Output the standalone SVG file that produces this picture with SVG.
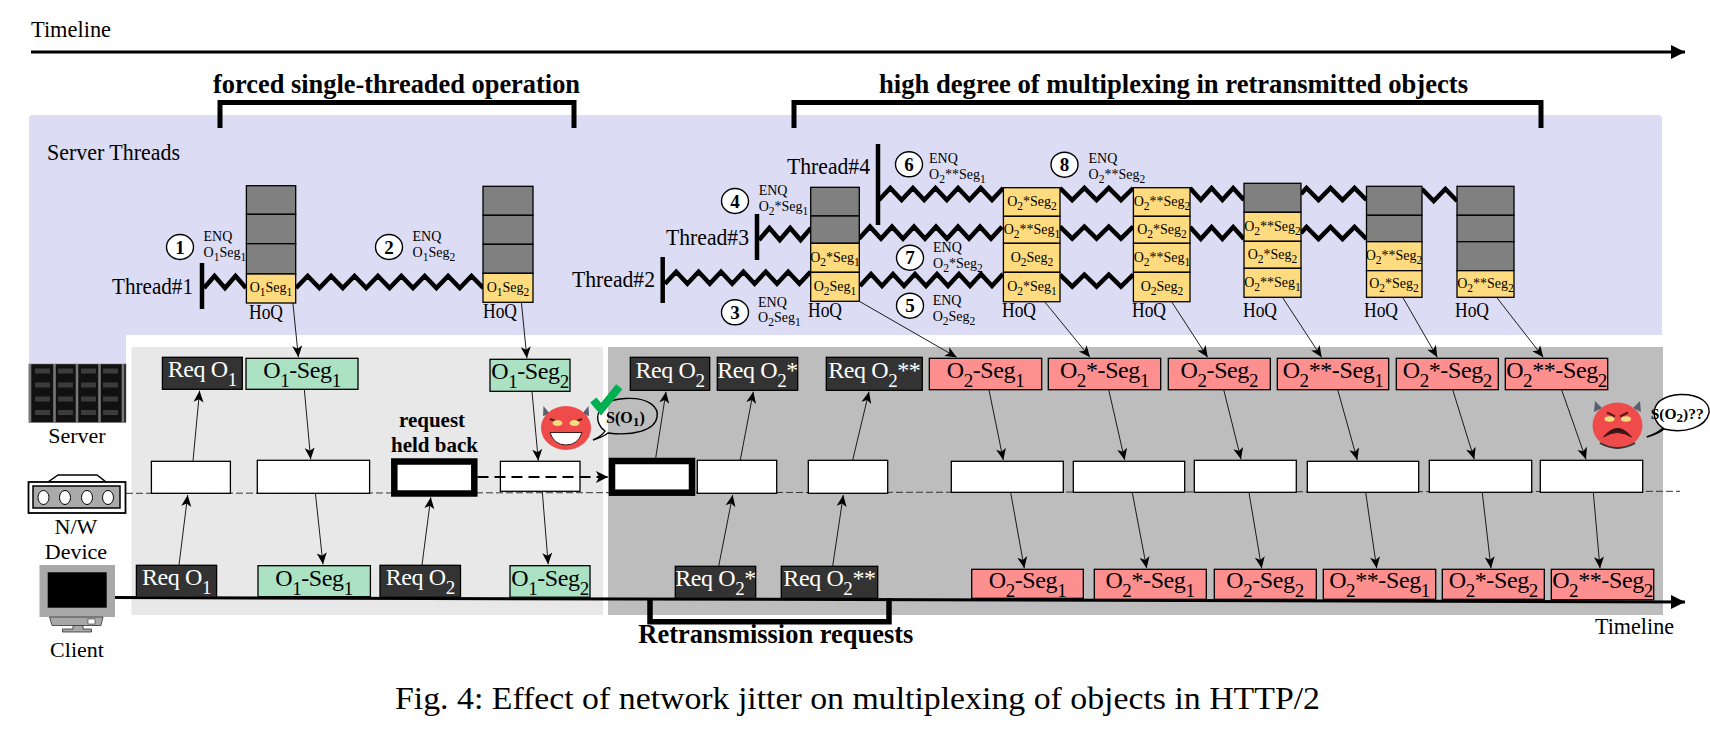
<svg xmlns="http://www.w3.org/2000/svg" width="1710" height="730" viewBox="0 0 1710 730">
<style>
text{font-family:"Liberation Serif","Times New Roman",serif;fill:#000}
.lbl{font-size:22px}
.hoq{font-size:20px}
.big{font-size:23px}
.title{font-size:27px;font-weight:bold}
.b{font-size:24px;letter-spacing:-.4px;text-anchor:middle}
.w,.w tspan{fill:#fff}
.s{font-size:19px}
.y{font-size:14px;text-anchor:middle}
.y .s{font-size:11.5px}
.e{font-size:14px}
.e .s{font-size:11.5px}
.n{font-size:19px;font-weight:bold;text-anchor:middle}
.m{text-anchor:middle}
.c{fill:#fff;stroke:#000;stroke-width:1.4}
.g{fill:#808080;stroke:#000;stroke-width:1.3}
.yl{fill:#fedb7e;stroke:#000;stroke-width:1.3}
.d{fill:#333;stroke:#000;stroke-width:1.3}
.gr{fill:#abe2c4;stroke:#000;stroke-width:1.3}
.r{fill:#fe8f8f;stroke:#000;stroke-width:1.3}
.wb{fill:#fff;stroke:#000;stroke-width:1.3}
.hb{fill:#fff;stroke:#000;stroke-width:6.5}
.z{fill:none;stroke:#000;stroke-width:4.5;stroke-linejoin:miter}
.bar{fill:none;stroke:#000;stroke-width:5}
.a line{stroke:#111;stroke-width:.95;marker-end:url(#ah)}
</style>
<defs>
<marker id="ah" markerUnits="userSpaceOnUse" markerWidth="16" markerHeight="14" refX="14" refY="7" orient="auto"><path d="M14,7 L2.5,2 L5.5,7 L2.5,12 Z" fill="#000"/></marker>
<marker id="bh" markerUnits="userSpaceOnUse" markerWidth="16" markerHeight="18" refX="15" refY="9" orient="auto"><path d="M15,9 L1,2 L1,16 Z" fill="#000"/></marker>
<marker id="dh" markerUnits="userSpaceOnUse" markerWidth="16" markerHeight="14" refX="14" refY="7" orient="auto"><path d="M14,7 L2,1 L5,7 L2,13 Z" fill="#000"/></marker>
</defs>

<rect width="1710" height="730" fill="#fff"/>
<g id="panels">
<path d="M32,115 H1658 Q1662,115 1662,119 V335 H126 V364 H29 V119 Q29,115 32,115 Z" fill="#dcdcf4"/>
<rect x="131.5" y="347" width="471.5" height="268" fill="#e8e8e8"/>
<rect x="608" y="347" width="1055" height="268" fill="#bdbdbd"/>
</g>

<g id="timeline-top">
<text x="31" y="37" class="big" textLength="80" lengthAdjust="spacingAndGlyphs">Timeline</text>
<line x1="31" y1="52" x2="1685" y2="52" stroke="#000" stroke-width="3" marker-end="url(#bh)"/>
</g>
<g id="phase-labels">
<text x="213" y="93" class="title" textLength="367" lengthAdjust="spacingAndGlyphs">forced single-threaded operation</text>
<path d="M220,128 V102.5 H574 V128" class="bar"/>
<text x="879" y="93" class="title" textLength="589" lengthAdjust="spacingAndGlyphs">high degree of multiplexing in retransmitted objects</text>
<path d="M794,128 V102.5 H1541 V128" class="bar"/>
</g>
<text x="47" y="160" class="big" textLength="133" lengthAdjust="spacingAndGlyphs">Server Threads</text>

<line x1="126" y1="493.3" x2="1680" y2="491.3" stroke="#333" stroke-width="1" stroke-dasharray="7 3" id="nw-line"/>

<g id="threads">
<text x="112" y="294" class="big" textLength="81" lengthAdjust="spacingAndGlyphs">Thread#1</text>
<line x1="202" y1="263" x2="202" y2="309" stroke="#000" stroke-width="4.5"/>
<path class="z" d="M204,288 l10.5,-12 l10.5,12 l10.5,-12 l10.5,12"/>
<path class="z" d="M296,288 l11.7,-12 l11.7,12 l11.7,-12 l11.7,12 l11.7,-12 l11.7,12 l11.7,-12 l11.7,12 l11.7,-12 l11.7,12 l11.7,-12 l11.7,12 l11.7,-12 l11.7,12 l11.7,-12 l11.7,12"/>
<text x="572" y="287" class="big" textLength="83" lengthAdjust="spacingAndGlyphs">Thread#2</text>
<line x1="662.7" y1="257" x2="662.7" y2="303" stroke="#000" stroke-width="4.5"/>
<path class="z" d="M665,283.7 l11.2,-12 l11.2,12 l11.2,-12 l11.2,12 l11.2,-12 l11.2,12 l11.2,-12 l11.2,12 l11.2,-12 l11.2,12 l11.2,-12 l11.2,12 l11.2,-12"/>
<path class="z" d="M860,286 l11,-12 l11,12 l11,-12 l11,12 l11,-12 l11,12 l11,-12 l11,12 l11,-12 l11,12 l11,-12 l11,12 l11,-12"/>
<text x="666" y="245" class="big" textLength="83" lengthAdjust="spacingAndGlyphs">Thread#3</text>
<line x1="757" y1="214" x2="757" y2="260" stroke="#000" stroke-width="4.5"/>
<path class="z" d="M759,240 l10.4,-12 l10.4,12 l10.4,-12 l10.4,12 l10.4,-12"/>
<path class="z" d="M859,238.7 l11,-12 l11,12 l11,-12 l11,12 l11,-12 l11,12 l11,-12 l11,12 l11,-12 l11,12 l11,-12 l11,12 l11,-12"/>
<text x="787" y="174" class="big" textLength="83" lengthAdjust="spacingAndGlyphs">Thread#4</text>
<line x1="878" y1="144" x2="878" y2="225" stroke="#000" stroke-width="4.5"/>
<path class="z" d="M879,200 l11.3,-12 l11.3,12 l11.3,-12 l11.3,12 l11.3,-12 l11.3,12 l11.3,-12 l11.3,12 l11.3,-12 l11.3,12 l11.3,-12"/>
<path class="z" d="M1060,188 l12.2,12 l12.2,-12 l12.2,12 l12.2,-12 l12.2,12 l12.2,-12"/>
<path class="z" d="M1060,226.7 l12.2,12 l12.2,-12 l12.2,12 l12.2,-12 l12.2,12 l12.2,-12"/>
<path class="z" d="M1060,274.7 l12.2,12 l12.2,-12 l12.2,12 l12.2,-12 l12.2,12 l12.2,-12"/>
<path class="z" d="M1190,188 l10.8,12 l10.8,-12 l10.8,12 l10.8,-12 l10.8,12"/>
<path class="z" d="M1190,227 l10.8,12 l10.8,-12 l10.8,12 l10.8,-12 l10.8,12"/>
<path class="z" d="M1301,194 l5.5,-6 l12,12 l12,-12 l12,12 l12,-12 l12,12"/>
<path class="z" d="M1301,233 l5.5,-6 l12,12 l12,-12 l12,12 l12,-12 l12,12"/>
<path class="z" d="M1422,189 l11.7,12 l11.7,-12 l11.7,12"/>
</g>

<g id="enq-labels">
<ellipse class="c" cx="180" cy="247" rx="13.5" ry="12.5"/><text x="180" y="253.5" class="n">1</text>
<text x="203.5" y="241" class="e">ENQ</text><text x="203.5" y="256.7" class="e">O<tspan class="s" dy="4">1</tspan><tspan dy="-4">Seg</tspan><tspan class="s" dy="4">1</tspan></text>
<ellipse class="c" cx="389" cy="247" rx="13.5" ry="12.5"/><text x="389" y="253.5" class="n">2</text>
<text x="412.5" y="241" class="e">ENQ</text><text x="412.5" y="256.7" class="e">O<tspan class="s" dy="4">1</tspan><tspan dy="-4">Seg</tspan><tspan class="s" dy="4">2</tspan></text>
<ellipse class="c" cx="735" cy="312.3" rx="13.5" ry="12.5"/><text x="735" y="318.8" class="n">3</text>
<text x="758" y="306.7" class="e">ENQ</text><text x="758" y="322" class="e">O<tspan class="s" dy="4">2</tspan><tspan dy="-4">Seg</tspan><tspan class="s" dy="4">1</tspan></text>
<ellipse class="c" cx="735" cy="201" rx="13.5" ry="12.5"/><text x="735" y="207.5" class="n">4</text>
<text x="758.7" y="195" class="e">ENQ</text><text x="758.7" y="210.7" class="e">O<tspan class="s" dy="4">2</tspan><tspan dy="-4">*Seg</tspan><tspan class="s" dy="4">1</tspan></text>
<ellipse class="c" cx="910" cy="305.7" rx="13.5" ry="12.5"/><text x="910" y="312.2" class="n">5</text>
<text x="932.7" y="304.7" class="e">ENQ</text><text x="932.7" y="320.7" class="e">O<tspan class="s" dy="4">2</tspan><tspan dy="-4">Seg</tspan><tspan class="s" dy="4">2</tspan></text>
<ellipse class="c" cx="909" cy="164.3" rx="13.5" ry="12.5"/><text x="909" y="170.8" class="n">6</text>
<text x="929" y="163" class="e">ENQ</text><text x="929" y="179" class="e">O<tspan class="s" dy="4">2</tspan><tspan dy="-4">**Seg</tspan><tspan class="s" dy="4">1</tspan></text>
<ellipse class="c" cx="910" cy="257.7" rx="13.5" ry="12.5"/><text x="910" y="264.2" class="n">7</text>
<text x="933" y="252" class="e">ENQ</text><text x="933" y="268" class="e">O<tspan class="s" dy="4">2</tspan><tspan dy="-4">*Seg</tspan><tspan class="s" dy="4">2</tspan></text>
<ellipse class="c" cx="1064.5" cy="164.7" rx="13.5" ry="12.5"/><text x="1064.5" y="171.2" class="n">8</text>
<text x="1088.5" y="162.7" class="e">ENQ</text><text x="1088.5" y="179" class="e">O<tspan class="s" dy="4">2</tspan><tspan dy="-4">**Seg</tspan><tspan class="s" dy="4">2</tspan></text>
</g>

<g id="stack-a">
<rect class="g" x="246.4" y="185.7" width="49.3" height="28.6"/><rect class="g" x="246.4" y="214.3" width="49.3" height="29.4"/><rect class="g" x="246.4" y="243.7" width="49.3" height="30.3"/>
<rect class="yl" x="246.4" y="274" width="49.3" height="29"/>
<text x="271" y="292" class="y">O<tspan class="s" dy="4">1</tspan><tspan dy="-4">Seg</tspan><tspan class="s" dy="4">1</tspan></text>
<text x="249" y="319" class="hoq" textLength="34" lengthAdjust="spacingAndGlyphs">HoQ</text>
</g>
<g id="stack-b">
<rect class="g" x="483" y="186.3" width="50" height="29"/><rect class="g" x="483" y="215.3" width="50" height="29"/><rect class="g" x="483" y="244.3" width="50" height="29"/>
<rect class="yl" x="483" y="273.3" width="50" height="29"/>
<text x="508" y="291.5" class="y">O<tspan class="s" dy="4">1</tspan><tspan dy="-4">Seg</tspan><tspan class="s" dy="4">2</tspan></text>
<text x="483" y="318" class="hoq" textLength="34" lengthAdjust="spacingAndGlyphs">HoQ</text>
</g>
<g id="stack-c">
<rect class="g" x="810.7" y="187.3" width="48.6" height="28.7"/><rect class="g" x="810.7" y="216" width="48.6" height="27.3"/>
<rect class="yl" x="810.7" y="243.3" width="48.6" height="29"/><rect class="yl" x="810.7" y="272.3" width="48.6" height="29"/>
<text x="835" y="261.5" class="y">O<tspan class="s" dy="4">2</tspan><tspan dy="-4">*Seg</tspan><tspan class="s" dy="4">1</tspan></text>
<text x="835" y="290.5" class="y">O<tspan class="s" dy="4">2</tspan><tspan dy="-4">Seg</tspan><tspan class="s" dy="4">1</tspan></text>
<text x="808" y="317" class="hoq" textLength="34" lengthAdjust="spacingAndGlyphs">HoQ</text>
</g>
<g id="stack-d">
<rect class="yl" x="1003.4" y="187.7" width="56.6" height="28.6"/><rect class="yl" x="1003.4" y="216.3" width="56.6" height="27"/><rect class="yl" x="1003.4" y="243.3" width="56.6" height="29"/><rect class="yl" x="1003.4" y="272.3" width="56.6" height="29.4"/>
<text x="1032" y="205.5" class="y">O<tspan class="s" dy="4">2</tspan><tspan dy="-4">*Seg</tspan><tspan class="s" dy="4">2</tspan></text>
<text x="1032" y="233.5" class="y">O<tspan class="s" dy="4">2</tspan><tspan dy="-4">**Seg</tspan><tspan class="s" dy="4">1</tspan></text>
<text x="1032" y="261.5" class="y">O<tspan class="s" dy="4">2</tspan><tspan dy="-4">Seg</tspan><tspan class="s" dy="4">2</tspan></text>
<text x="1032" y="290.5" class="y">O<tspan class="s" dy="4">2</tspan><tspan dy="-4">*Seg</tspan><tspan class="s" dy="4">1</tspan></text>
<text x="1002" y="317" class="hoq" textLength="34" lengthAdjust="spacingAndGlyphs">HoQ</text>
</g>
<g id="stack-e">
<rect class="yl" x="1133.4" y="187.7" width="56.6" height="28.6"/><rect class="yl" x="1133.4" y="216.3" width="56.6" height="27"/><rect class="yl" x="1133.4" y="243.3" width="56.6" height="29"/><rect class="yl" x="1133.4" y="272.3" width="56.6" height="29.4"/>
<text x="1162" y="205.5" class="y">O<tspan class="s" dy="4">2</tspan><tspan dy="-4">**Seg</tspan><tspan class="s" dy="4">2</tspan></text>
<text x="1162" y="233.5" class="y">O<tspan class="s" dy="4">2</tspan><tspan dy="-4">*Seg</tspan><tspan class="s" dy="4">2</tspan></text>
<text x="1162" y="261.5" class="y">O<tspan class="s" dy="4">2</tspan><tspan dy="-4">**Seg</tspan><tspan class="s" dy="4">1</tspan></text>
<text x="1162" y="290.5" class="y">O<tspan class="s" dy="4">2</tspan><tspan dy="-4">Seg</tspan><tspan class="s" dy="4">2</tspan></text>
<text x="1132" y="317" class="hoq" textLength="34" lengthAdjust="spacingAndGlyphs">HoQ</text>
</g>
<g id="stack-f">
<rect class="g" x="1244" y="183.3" width="57" height="29"/>
<rect class="yl" x="1244" y="212.3" width="57" height="29"/><rect class="yl" x="1244" y="241.3" width="57" height="27"/><rect class="yl" x="1244" y="268.3" width="57" height="29"/>
<text x="1272.5" y="231" class="y">O<tspan class="s" dy="4">2</tspan><tspan dy="-4">**Seg</tspan><tspan class="s" dy="4">2</tspan></text>
<text x="1272.5" y="259" class="y">O<tspan class="s" dy="4">2</tspan><tspan dy="-4">*Seg</tspan><tspan class="s" dy="4">2</tspan></text>
<text x="1272.5" y="287" class="y">O<tspan class="s" dy="4">2</tspan><tspan dy="-4">**Seg</tspan><tspan class="s" dy="4">1</tspan></text>
<text x="1243" y="317" class="hoq" textLength="34" lengthAdjust="spacingAndGlyphs">HoQ</text>
</g>
<g id="stack-g">
<rect class="g" x="1366.5" y="186.3" width="55.5" height="29"/><rect class="g" x="1366.5" y="215.3" width="55.5" height="26.4"/>
<rect class="yl" x="1366.5" y="241.7" width="55.5" height="29"/><rect class="yl" x="1366.5" y="270.7" width="55.5" height="26.6"/>
<text x="1394" y="260" class="y">O<tspan class="s" dy="4">2</tspan><tspan dy="-4">**Seg</tspan><tspan class="s" dy="4">2</tspan></text>
<text x="1394" y="288" class="y">O<tspan class="s" dy="4">2</tspan><tspan dy="-4">*Seg</tspan><tspan class="s" dy="4">2</tspan></text>
<text x="1364" y="317" class="hoq" textLength="34" lengthAdjust="spacingAndGlyphs">HoQ</text>
</g>
<g id="stack-h">
<rect class="g" x="1457" y="186.3" width="57" height="29"/><rect class="g" x="1457" y="215.3" width="57" height="26.4"/><rect class="g" x="1457" y="241.7" width="57" height="29"/>
<rect class="yl" x="1457" y="270.7" width="57" height="26.6"/>
<text x="1485.5" y="288" class="y">O<tspan class="s" dy="4">2</tspan><tspan dy="-4">**Seg</tspan><tspan class="s" dy="4">2</tspan></text>
<text x="1455" y="317" class="hoq" textLength="34" lengthAdjust="spacingAndGlyphs">HoQ</text>
</g>

<g id="server">
<rect x="29" y="364" width="97" height="58.5" fill="#111" stroke="#777" stroke-width=".6"/>
<path d="M30,364 V422 M54.5,364 V422 M77,364 V422 M99.5,364 V422 M123,364 V422" stroke="#777" stroke-width="2.6"/>
<g fill="#3c3c3c">
<rect x="35" y="368.5" width="15" height="5"/><rect x="58" y="368.5" width="15" height="5"/><rect x="81" y="368.5" width="15" height="5"/><rect x="103" y="368.5" width="15" height="5"/>
<rect x="35" y="382.5" width="15" height="5"/><rect x="58" y="382.5" width="15" height="5"/><rect x="81" y="382.5" width="15" height="5"/><rect x="103" y="382.5" width="15" height="5"/>
<rect x="35" y="396.5" width="15" height="5"/><rect x="58" y="396.5" width="15" height="5"/><rect x="81" y="396.5" width="15" height="5"/><rect x="103" y="396.5" width="15" height="5"/>
<rect x="35" y="410" width="15" height="5"/><rect x="58" y="410" width="15" height="5"/><rect x="81" y="410" width="15" height="5"/><rect x="103" y="410" width="15" height="5"/>
</g>
<text x="77" y="442.5" class="lbl m">Server</text>
</g>
<g id="nw-device">
<path d="M48,482 L58,475 H97 L106,482 Z" fill="#fff" stroke="#000" stroke-width="1.5"/>
<rect x="28.5" y="482" width="97" height="31" fill="#fff" stroke="#000" stroke-width="1.8"/>
<rect x="33" y="486" width="87" height="22" fill="#aaa" stroke="#000" stroke-width="1.5"/>
<g fill="#fff" stroke="#000"><ellipse cx="43.5" cy="497.5" rx="5.5" ry="7"/><ellipse cx="65" cy="497.5" rx="5.5" ry="7"/><ellipse cx="87" cy="497.5" rx="5.5" ry="7"/><ellipse cx="108" cy="497.5" rx="5.5" ry="7"/></g>
<text x="76" y="534" class="lbl m">N/W</text>
<text x="76" y="558.7" class="lbl m">Device</text>
</g>
<g id="client">
<rect x="39.5" y="565" width="75.5" height="52" fill="#a8a8a8"/>
<rect x="47.7" y="572.3" width="59" height="35.4" fill="#000"/>
<path d="M49.5,617 H103 L101,625.5 H52 Z" fill="#a8a8a8" stroke="#333" stroke-width=".8"/>
<rect x="88" y="619" width="7" height="5" fill="#fff" stroke="#333" stroke-width=".6"/>
<path d="M73,625.5 H83 V629 H91.5 V632 H62.5 V629 H73 Z" fill="#a8a8a8" stroke="#333" stroke-width=".8"/>
<text x="77" y="657" class="lbl m">Client</text>
</g>

<g id="net-boxes">
<rect class="wb" x="151.4" y="461.3" width="79" height="32"/>
<rect class="wb" x="257.3" y="460.3" width="112.3" height="33"/>
<rect class="hb" x="394.3" y="461.5" width="80" height="32"/>
<rect class="wb" x="500.4" y="461.3" width="79.6" height="30"/>
<rect class="hb" x="612" y="461" width="80" height="31.7"/>
<rect class="wb" x="697.3" y="460.3" width="79.4" height="33"/>
<rect class="wb" x="808.3" y="460.3" width="79.4" height="33"/>
<rect class="wb" x="951.3" y="461.3" width="112" height="31"/>
<rect class="wb" x="1073.3" y="461.3" width="111.4" height="31"/>
<rect class="wb" x="1194.3" y="460.3" width="102" height="32"/>
<rect class="wb" x="1307.3" y="461.3" width="111.4" height="31"/>
<rect class="wb" x="1429.3" y="460.3" width="102.4" height="32"/>
<rect class="wb" x="1540.3" y="460.3" width="102.4" height="32"/>
</g>
<text x="432" y="427" class="m" font-weight="bold" font-size="21">request</text>
<text x="434.5" y="451.7" class="m" font-weight="bold" font-size="21">held back</text>

<line x1="115" y1="597.5" x2="1685" y2="602" stroke="#000" stroke-width="3" marker-end="url(#bh)" id="timeline-bottom"/>
<path d="M650,598 V621.8 H889 V598" class="bar" style="stroke-width:5.5"/>
<text x="638.3" y="642.7" class="title" textLength="275" lengthAdjust="spacingAndGlyphs">Retransmission requests</text>
<text x="1595" y="634.3" class="big" textLength="79" lengthAdjust="spacingAndGlyphs">Timeline</text>

<g id="server-row">
<g id="req-o1-s"><rect class="d" x="162.4" y="357.3" width="79.9" height="32"/><text x="202.3" y="377" class="b w">Req O<tspan class="s" dy="9">1</tspan></text></g>
<g id="o1s1-s"><rect class="gr" x="246" y="358.3" width="112" height="31"/><text x="302" y="378" class="b">O<tspan class="s" dy="9">1</tspan><tspan dy="-9">-Seg</tspan><tspan class="s" dy="9">1</tspan></text></g>
<g id="o1s2-s"><rect class="gr" x="490" y="359.3" width="80" height="32"/><text x="530" y="379" class="b">O<tspan class="s" dy="9">1</tspan><tspan dy="-9">-Seg</tspan><tspan class="s" dy="9">2</tspan></text></g>
<g id="req-o2-s"><rect class="d" x="630.3" y="357.3" width="79.4" height="33"/><text x="670" y="377.5" class="b w">Req O<tspan class="s" dy="9">2</tspan></text></g>
<g id="req-o2a-s"><rect class="d" x="717.3" y="357.3" width="80.4" height="33"/><text x="757.5" y="377.5" class="b w">Req O<tspan class="s" dy="9">2</tspan><tspan dy="-9">*</tspan></text></g>
<g id="req-o2b-s"><rect class="d" x="826.3" y="357.3" width="96" height="33"/><text x="874.3" y="377.5" class="b w">Req O<tspan class="s" dy="9">2</tspan><tspan dy="-9">**</tspan></text></g>
<g id="s1"><rect class="r" x="929.3" y="358.3" width="112.4" height="31.4"/><text x="985.5" y="378" class="b">O<tspan class="s" dy="9">2</tspan><tspan dy="-9">-Seg</tspan><tspan class="s" dy="9">1</tspan></text></g>
<g id="s2"><rect class="r" x="1048.3" y="358.3" width="112.4" height="31.4"/><text x="1104.5" y="378" class="b">O<tspan class="s" dy="9">2</tspan><tspan dy="-9">*-Seg</tspan><tspan class="s" dy="9">1</tspan></text></g>
<g id="s3"><rect class="r" x="1168.3" y="358.3" width="102" height="31.4"/><text x="1219.3" y="378" class="b">O<tspan class="s" dy="9">2</tspan><tspan dy="-9">-Seg</tspan><tspan class="s" dy="9">2</tspan></text></g>
<g id="s4"><rect class="r" x="1277.3" y="358.3" width="111.4" height="31.4"/><text x="1333" y="378" class="b">O<tspan class="s" dy="9">2</tspan><tspan dy="-9">**-Seg</tspan><tspan class="s" dy="9">1</tspan></text></g>
<g id="s5"><rect class="r" x="1396.3" y="358.3" width="102" height="31.4"/><text x="1447.3" y="378" class="b">O<tspan class="s" dy="9">2</tspan><tspan dy="-9">*-Seg</tspan><tspan class="s" dy="9">2</tspan></text></g>
<g id="s6"><rect class="r" x="1505.3" y="358.3" width="102.4" height="31.4"/><text x="1556.5" y="378" class="b">O<tspan class="s" dy="9">2</tspan><tspan dy="-9">**-Seg</tspan><tspan class="s" dy="9">2</tspan></text></g>
</g>

<g id="client-row">
<g id="req-o1-c"><rect class="d" x="136.4" y="565.3" width="80.2" height="32"/><text x="176.5" y="585" class="b w">Req O<tspan class="s" dy="9">1</tspan></text></g>
<g id="o1s1-c"><rect class="gr" x="258" y="565.7" width="112.4" height="31"/><text x="314" y="585.5" class="b">O<tspan class="s" dy="9">1</tspan><tspan dy="-9">-Seg</tspan><tspan class="s" dy="9">1</tspan></text></g>
<g id="req-o2-c"><rect class="d" x="380" y="565.3" width="80.5" height="32"/><text x="420.2" y="585" class="b w">Req O<tspan class="s" dy="9">2</tspan></text></g>
<g id="o1s2-c"><rect class="gr" x="510" y="565.7" width="80" height="31.5"/><text x="550" y="585.5" class="b">O<tspan class="s" dy="9">1</tspan><tspan dy="-9">-Seg</tspan><tspan class="s" dy="9">2</tspan></text></g>
<g id="req-o2a-c"><rect class="d" x="675.3" y="566.3" width="80.4" height="32"/><text x="715.5" y="586" class="b w">Req O<tspan class="s" dy="9">2</tspan><tspan dy="-9">*</tspan></text></g>
<g id="req-o2b-c"><rect class="d" x="781.3" y="566.3" width="96.4" height="32"/><text x="829.5" y="586" class="b w">Req O<tspan class="s" dy="9">2</tspan><tspan dy="-9">**</tspan></text></g>
<g id="c1"><rect class="r" x="971.7" y="569.3" width="111.6" height="29"/><text x="1027.5" y="588" class="b">O<tspan class="s" dy="9">2</tspan><tspan dy="-9">-Seg</tspan><tspan class="s" dy="9">1</tspan></text></g>
<g id="c2"><rect class="r" x="1094.3" y="569.3" width="112" height="30"/><text x="1150" y="588" class="b">O<tspan class="s" dy="9">2</tspan><tspan dy="-9">*-Seg</tspan><tspan class="s" dy="9">1</tspan></text></g>
<g id="c3"><rect class="r" x="1214.3" y="569.3" width="102" height="30"/><text x="1265" y="588" class="b">O<tspan class="s" dy="9">2</tspan><tspan dy="-9">-Seg</tspan><tspan class="s" dy="9">2</tspan></text></g>
<g id="c4"><rect class="r" x="1323.3" y="569.3" width="112.4" height="30"/><text x="1379.5" y="588" class="b">O<tspan class="s" dy="9">2</tspan><tspan dy="-9">**-Seg</tspan><tspan class="s" dy="9">1</tspan></text></g>
<g id="c5"><rect class="r" x="1442.3" y="569.3" width="102" height="30"/><text x="1493.3" y="588" class="b">O<tspan class="s" dy="9">2</tspan><tspan dy="-9">*-Seg</tspan><tspan class="s" dy="9">2</tspan></text></g>
<g id="c6"><rect class="r" x="1551.3" y="569.3" width="102.4" height="30.5"/><text x="1602.5" y="588" class="b">O<tspan class="s" dy="9">2</tspan><tspan dy="-9">**-Seg</tspan><tspan class="s" dy="9">2</tspan></text></g>
</g>

<g id="connectors" class="a">
<line x1="179" y1="565" x2="187.7" y2="495"/><line x1="193" y1="460.7" x2="199.6" y2="390.7"/>
<line x1="292.9" y1="303" x2="298.4" y2="357.3"/><line x1="304.3" y1="389.3" x2="310.7" y2="459.3"/><line x1="315.4" y1="493.3" x2="323" y2="564.3"/>
<line x1="422" y1="565" x2="430.8" y2="497.3"/>
<line x1="521.4" y1="302.3" x2="526.9" y2="358.3"/><line x1="532" y1="391.7" x2="538.3" y2="460.7"/><line x1="542.3" y1="491.7" x2="548.2" y2="564.3"/>
<line x1="655.7" y1="458" x2="666" y2="391.7"/><line x1="740.3" y1="460" x2="753.3" y2="391.7"/><line x1="852.7" y1="460" x2="869" y2="391.7"/>
<line x1="718.7" y1="566" x2="732.7" y2="495"/><line x1="832.7" y1="566" x2="843.3" y2="495"/>
<line x1="859.3" y1="301.3" x2="956.7" y2="357.3"/><line x1="989" y1="390" x2="1003.3" y2="460"/><line x1="1010.7" y1="492.7" x2="1024.3" y2="568.3"/>
<line x1="1044.6" y1="301.7" x2="1090" y2="357.3"/><line x1="1108.7" y1="389.7" x2="1124.7" y2="460"/><line x1="1132.3" y1="492.7" x2="1146.7" y2="568.3"/>
<line x1="1171.6" y1="301.7" x2="1207.7" y2="357.3"/><line x1="1223.7" y1="389.7" x2="1241" y2="459.3"/><line x1="1249" y1="492.7" x2="1261.7" y2="568.3"/>
<line x1="1282.4" y1="297.3" x2="1321.7" y2="357.3"/><line x1="1337.7" y1="389.7" x2="1357.3" y2="460"/><line x1="1365.7" y1="492.7" x2="1376.7" y2="568.3"/>
<line x1="1402.7" y1="297.3" x2="1437.3" y2="357.3"/><line x1="1452.7" y1="389.7" x2="1474.3" y2="459.3"/><line x1="1482.3" y1="492.7" x2="1491" y2="568.3"/>
<line x1="1496.6" y1="297.3" x2="1543.3" y2="357.3"/><line x1="1561.7" y1="390" x2="1586" y2="459.3"/><line x1="1593.3" y1="492.3" x2="1600" y2="568.3"/>
<path d="M477.5,477 H608" fill="none" stroke="#000" stroke-width="2" stroke-dasharray="11 6" marker-end="url(#dh)"/>
</g>

<g id="attacker-happy">
<path d="M543,416 L543.5,406 L550,414 Z M589,416 L588.5,406 L582,414 Z" fill="#5a6070"/>
<ellipse cx="566" cy="428" rx="25" ry="22" fill="#ef4b4b"/>
<path d="M550,419 L561,423 M582,419 L571,423" stroke="#5a1a1a" stroke-width="2"/>
<ellipse cx="557.5" cy="423" rx="5" ry="3" fill="#f4dc80"/><ellipse cx="574.5" cy="423" rx="5" ry="3" fill="#f4dc80"/>
<path d="M550,432.5 H582 Q578,445 566,445 Q554,445 550,432.5 Z" fill="#fff" stroke="#3a1a1a"/>
<path d="M597,412 C596,425 600,430 608,433 L608,400 C602,402 598,406 597,412 Z" fill="#fff" opacity=".85"/>
<path d="M605,431 C592,422 595,400 625,398.5 C650,397 659,408 657,417 C655,431 632,436 608,433 Q603,437 593,440 Q602,436 605,431 Z" fill="none" stroke="#000" stroke-width="1.4"/>
<path d="M593.3,400 L601,409.3 L619.3,386.7" fill="none" stroke="#00b050" stroke-width="8"/>
<text x="606" y="423" font-size="16" font-weight="bold">S(O<tspan dy="3" font-size="13.5">1</tspan><tspan dy="-3">)</tspan></text>
</g>
<g id="attacker-angry">
<path d="M1594,412 L1595,401 L1602,408 Z M1641,412 L1640,401 L1633,408 Z" fill="#5a6070"/>
<ellipse cx="1617.5" cy="425.5" rx="25" ry="23" fill="#ef4b4b"/>
<path d="M1607,412.5 L1615,416.5 M1628,412.5 L1620,416.5" stroke="#5a1a1a" stroke-width="2"/>
<ellipse cx="1609.5" cy="419" rx="5" ry="2.8" fill="#f4dc80"/><ellipse cx="1626" cy="419" rx="5" ry="2.8" fill="#f4dc80"/>
<path d="M1603.5,437 Q1617.5,420 1631.5,437 Q1617.5,428 1603.5,437 Z" fill="#3a1414" stroke="#3a1414"/>
<path d="M1600,443 Q1617.5,453 1635,443" fill="none" stroke="#333" stroke-width="2"/>
<path d="M1663,428 C1650,420 1648,397 1680,394.5 C1702,394 1710,404 1709,413 C1706,427 1685,434 1664,429 Q1658,434 1646.7,437 Q1658,433 1663,428 Z" fill="#fff" stroke="#000" stroke-width="1.4"/>
<text x="1650.7" y="419.3" font-size="15.5" font-weight="bold">S(O<tspan dy="3" font-size="13">2</tspan><tspan dy="-3">)??</tspan></text>
</g>

<text x="395" y="709" font-size="31" textLength="925" lengthAdjust="spacingAndGlyphs" id="caption">Fig. 4: Effect of network jitter on multiplexing of objects in HTTP/2</text>
</svg>
